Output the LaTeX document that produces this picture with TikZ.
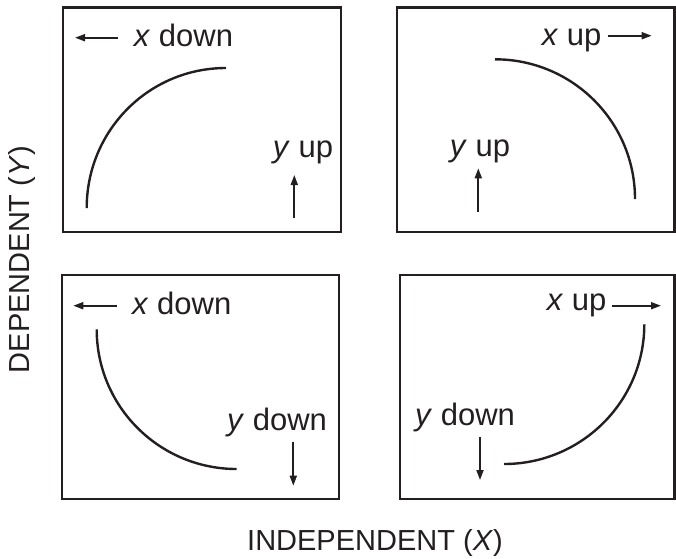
\documentclass[tikz,border=0pt]{standalone}
\usepackage{fontspec}
\setmainfont{Liberation Sans}
\usetikzlibrary{arrows.meta}
\definecolor{ink}{HTML}{231F20}
\begin{document}
\begin{tikzpicture}[x=1pt,y=-1pt,
  frame/.style={draw=ink,line width=2.6pt},
  curve/.style={draw=ink,line width=2.4pt},
  arr/.style={draw=ink,line width=1.8pt,-{Triangle[length=10pt,width=7pt]}},
  lab/.style={font=\fontsize{31}{36}\selectfont,inner sep=0pt,anchor=base,text=ink},
  axis/.style={font=\fontsize{29}{34}\selectfont,inner sep=0pt,text=ink}]
\useasboundingbox (0,0) rectangle (676,558);

% frames
\draw[frame] (63,7.5) rectangle (341,232);
\draw[frame] (397,7.5) rectangle (674.5,232);
\draw[frame] (62,275) rectangle (339,499);
\draw[frame] (400,275) rectangle (674.5,499);

% curves
\draw[curve] (86.7,208) .. controls (86.7,130.7) and (148.7,68) .. (226,68);
\draw[curve] (495,59.3) .. controls (572.3,59.3) and (635,121.7) .. (635,199);
\draw[curve] (96.7,329.3) .. controls (96.7,406.6) and (159.4,469) .. (236.7,469);
\draw[curve] (644.3,324.3) .. controls (644.3,401.6) and (581.3,464) .. (504,464);

% labels
\node[lab] (tlx) at (183.5,46.7) {\textit{x} down};
\node[lab] (tly) at (303,157.7) {\textit{y} up};
\node[lab] (trx) at (571.5,45) {\textit{x} up};
\node[lab] (try) at (480,156.7) {\textit{y} up};
\node[lab] (blx) at (181.7,314) {\textit{x} down};
\node[lab] (bly) at (277,430) {\textit{y} down};
\node[lab] (brx) at (576.7,310) {\textit{x} up};
\node[lab] (bry) at (465,425) {\textit{y} down};

% arrows
\coordinate (tlxa) at (118,37.7);  \coordinate (tlxb) at (75,37.7);
\coordinate (tlya) at (294.3,218); \coordinate (tlyb) at (294.3,175);
\coordinate (trxa) at (607.7,35.7); \coordinate (trxb) at (651.7,35.7);
\coordinate (trya) at (478.3,211.7); \coordinate (tryb) at (478.3,168.3);
\coordinate (blxa) at (116.7,305.7); \coordinate (blxb) at (73.3,305.7);
\coordinate (blya) at (293.3,441.7); \coordinate (blyb) at (293.3,485.7);
\coordinate (brxa) at (612.3,305.7); \coordinate (brxb) at (661,305.7);
\coordinate (brya) at (480,437.3); \coordinate (bryb) at (480,480);
\draw[arr] (tlxa) -- (tlxb);
\draw[arr] (tlya) -- (tlyb);
\draw[arr] (trxa) -- (trxb);
\draw[arr] (trya) -- (tryb);
\draw[arr] (blxa) -- (blxb);
\draw[arr] (blya) -- (blyb);
\draw[arr] (brxa) -- (brxb);
\draw[arr] (brya) -- (bryb);

% axis titles
\node[axis,anchor=base west] (indep) at (247,550.7) {INDEPENDENT (\textit{X})};
\node[axis,rotate=90] (dep) at (22,259.5) {DEPENDENT (\textit{Y})};
\end{tikzpicture}
\end{document}
